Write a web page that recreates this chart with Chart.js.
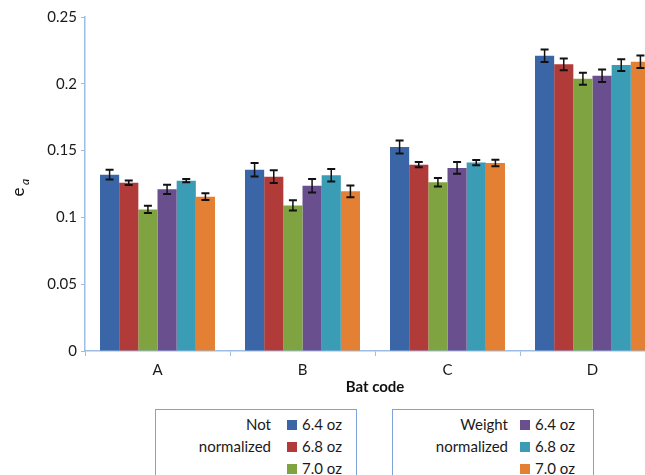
<!DOCTYPE html>
<html>
<head>
<meta charset="utf-8">
<script src="https://cdn.jsdelivr.net/npm/chart.js@4"></script>
<style>
  html, body { margin: 0; padding: 0; background: #fff; overflow: hidden; }
  #wrap { position: relative; width: 645px; height: 475px; overflow: hidden; }
  #chart { position: absolute; left: 0; top: 0; }
  .box {
    position: absolute; top: 409px; width: 200px; height: 80px;
    border: 1.5px solid #7fa3d8; font-family: Lato, "Open Sans", sans-serif;
    font-size: 15px; color: #1a1a1a;
  }
  .lbl { position: absolute; text-align: right; line-height: 22px; }
  .row { position: absolute; line-height: 22px; white-space: nowrap; }
  .sw { display: inline-block; width: 10px; height: 10px; margin-right: 5px; vertical-align: 0px; }
</style>
</head>
<body>
<div id="wrap">
  <canvas id="chart" width="670" height="400"></canvas>
  <div class="box" style="left:155px">
    <div class="lbl" style="right:85px; top:3px">Not<br>normalized</div>
    <div class="row" style="left:131px; top:3px"><span class="sw" style="background:#3a66a8"></span>6.4 oz</div>
    <div class="row" style="left:131px; top:25px"><span class="sw" style="background:#b13b38"></span>6.8 oz</div>
    <div class="row" style="left:131px; top:47px"><span class="sw" style="background:#80a341"></span>7.0 oz</div>
  </div>
  <div class="box" style="left:392px">
    <div class="lbl" style="right:85px; top:3px">Weight<br>normalized</div>
    <div class="row" style="left:127px; top:3px"><span class="sw" style="background:#6a4f8e"></span>6.4 oz</div>
    <div class="row" style="left:127px; top:25px"><span class="sw" style="background:#3b9cb6"></span>6.8 oz</div>
    <div class="row" style="left:127px; top:47px"><span class="sw" style="background:#e38033"></span>7.0 oz</div>
  </div>
</div>
<script>
var batCodes = ['A', 'B', 'C', 'D'];

// not normalized
var not64 = [0.132, 0.1357, 0.1527, 0.221];
var not68 = [0.126, 0.1305, 0.1395, 0.2146];
var not70 = [0.106, 0.109, 0.1263, 0.2038];
// weight normalized
var wt64 = [0.121, 0.1237, 0.137, 0.206];
var wt68 = [0.1275, 0.1315, 0.141, 0.214];
var wt70 = [0.1155, 0.1195, 0.1407, 0.2165];

// error bars (+/-)
var errNot64 = [0.0037, 0.005, 0.0049, 0.0047];
var errNot68 = [0.0017, 0.0047, 0.0019, 0.0044];
var errNot70 = [0.0027, 0.0039, 0.0031, 0.0045];
var errWt64 = [0.0035, 0.005, 0.0044, 0.0047];
var errWt68 = [0.0012, 0.0047, 0.0019, 0.0044];
var errWt70 = [0.0025, 0.0044, 0.0025, 0.0047];

var yTicks = [0, 0.05, 0.1, 0.15, 0.2, 0.25];

var axisBlue = '#9dbde3';
var font = "Lato, 'Open Sans', sans-serif";

function ds(label, data, err, color) {
    return {
        label: label,
        data: data,
        errors: err,
        backgroundColor: color,
        borderWidth: 0,
        barPercentage: 1,
        categoryPercentage: 0.793
    };
}

var errorBars = {
    id: 'errorBars',
    afterDatasetsDraw: function (chart) {
        var ctx = chart.ctx;
        var y = chart.scales.y;
        ctx.save();
        ctx.strokeStyle = '#111';
        chart.data.datasets.forEach(function (d, i) {
            var meta = chart.getDatasetMeta(i);
            meta.data.forEach(function (bar, j) {
                var top = y.getPixelForValue(d.data[j] + d.errors[j]);
                var bot = y.getPixelForValue(d.data[j] - d.errors[j]);
                ctx.lineWidth = 1.5;
                ctx.beginPath();
                ctx.moveTo(bar.x, top);
                ctx.lineTo(bar.x, bot);
                ctx.stroke();
                ctx.lineWidth = 2;
                ctx.beginPath();
                ctx.moveTo(bar.x - 4, top);
                ctx.lineTo(bar.x + 4, top);
                ctx.moveTo(bar.x - 4, bot);
                ctx.lineTo(bar.x + 4, bot);
                ctx.stroke();
            });
        });
        ctx.restore();
    }
};

// y axis title e with subscript a, rotated
var yTitle = {
    id: 'yTitle',
    afterDraw: function (chart) {
        var ctx = chart.ctx;
        ctx.save();
        ctx.translate(19, 192);
        ctx.rotate(-Math.PI / 2);
        ctx.fillStyle = '#111';
        ctx.textAlign = 'center';
        ctx.textBaseline = 'middle';
        ctx.font = '17px ' + font;
        ctx.fillText('e', 0, 0);
        ctx.font = 'italic 12px ' + font;
        ctx.fillText('a', 10, 6);
        ctx.restore();
    }
};

var ctx = document.getElementById('chart').getContext('2d');
var chart = new Chart(ctx, {
    type: 'bar',
    data: {
        labels: batCodes,
        datasets: [
            ds('Not normalized 6.4 oz', not64, errNot64, '#3a66a8'),
            ds('Not normalized 6.8 oz', not68, errNot68, '#b13b38'),
            ds('Not normalized 7.0 oz', not70, errNot70, '#80a341'),
            ds('Weight normalized 6.4 oz', wt64, errWt64, '#6a4f8e'),
            ds('Weight normalized 6.8 oz', wt68, errWt68, '#3b9cb6'),
            ds('Weight normalized 7.0 oz', wt70, errWt70, '#e38033')
        ]
    },
    options: {
        responsive: false,
        animation: false,
        layout: { padding: { top: 17, right: 5, left: 0, bottom: 0 } },
        plugins: {
            legend: { display: false },
            tooltip: { enabled: false }
        },
        scales: {
            x: {
                grid: { offset: true, drawOnChartArea: false, tickLength: 5, color: axisBlue },
                border: { color: axisBlue, width: 1.5 },
                ticks: { padding: 5, color: '#1a1a1a', font: { family: font, size: 15 } },
                title: {
                    display: true, text: 'Bat code', color: '#111',
                    font: { family: font, size: 15, weight: 'bold' },
                    padding: { top: 2, bottom: 4 }
                },
                afterFit: function (s) { s.height = 49; }
            },
            y: {
                min: 0,
                max: 0.25,
                afterBuildTicks: function (s) {
                    s.ticks = yTicks.map(function (v) { return { value: v }; });
                },
                grid: { drawOnChartArea: false, tickLength: 4, color: axisBlue },
                border: { color: axisBlue, width: 1.5 },
                ticks: {
                    padding: 4, color: '#1a1a1a', font: { family: font, size: 15 },
                    callback: function (v) { return String(+v.toFixed(2)); }
                },
                afterFit: function (s) { s.width = 85; }
            }
        }
    },
    plugins: [errorBars, yTitle]
});
</script>
</body>
</html>
